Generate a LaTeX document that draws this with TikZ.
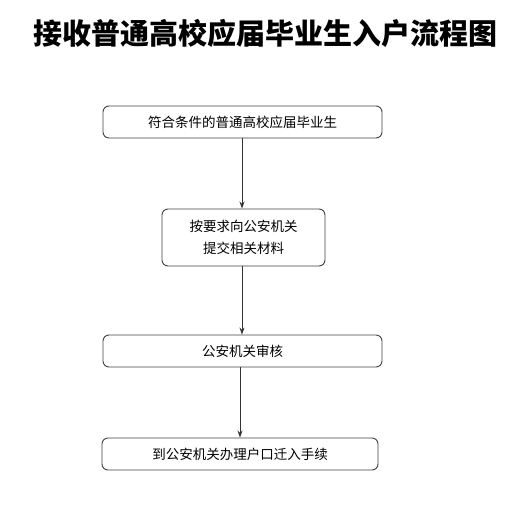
\documentclass[tikz,border=0pt]{standalone}
\usepackage{fontspec}
\setmainfont{Noto Sans CJK SC}
\usetikzlibrary{arrows.meta}
\tikzset{stepbox/.style={draw=black!75, rounded corners=6pt, line width=0.9pt, inner sep=0pt,
    align=center, font=\fontsize{13.5}{22}\selectfont},
  flow/.style={draw=black!80, line width=0.9pt, -{Stealth[length=7pt,width=5pt]}}}

\begin{document}
\begin{tikzpicture}[x=1pt,y=-1pt]
\useasboundingbox (0,0) rectangle (526,510);
\node (title) at (265,33) {\fontsize{29}{32}\selectfont\bfseries 接收普通高校应届毕业生入户流程图};
%boxes
\node[stepbox, minimum width=279pt, minimum height=32pt] (fuhe) at (242.5,122) {符合条件的普通高校应届毕业生};
\node[stepbox, minimum width=163pt, minimum height=57pt] (tijiao) at (243.5,237.5) {按要求向公安机关\\提交相关材料};
\node[stepbox, minimum width=279pt, minimum height=32pt] (shenhe) at (242.5,351) {公安机关审核};
\node[stepbox, minimum width=276pt, minimum height=32pt] (banli) at (240,454) {到公安机关办理户口迁入手续};

\draw[flow] (fuhe.south -| 242,0) -- (tijiao.north -| 242,0);
\draw[flow] (tijiao.south -| 242,0) -- (shenhe.north -| 242,0);
\draw[flow] (shenhe.south -| 240,0) -- (banli.north -| 240,0);

\end{tikzpicture}
\end{document}
